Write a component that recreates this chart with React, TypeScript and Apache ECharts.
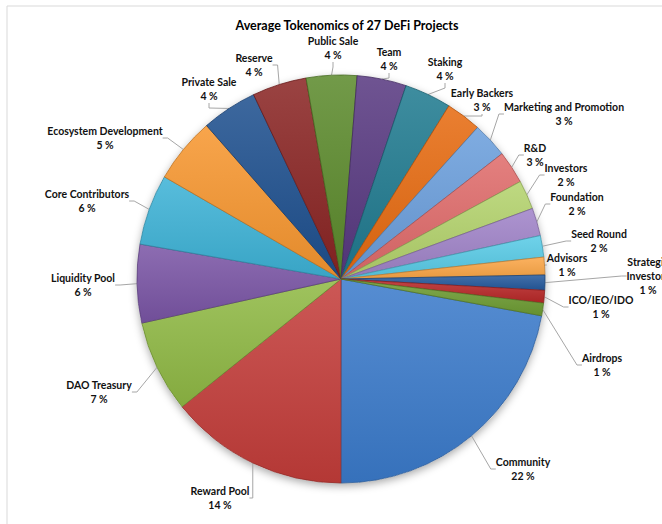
import React, { useEffect, useRef } from "react";
import * as echarts from "echarts";

const TITLE = "Average Tokenomics of 27 DeFi Projects";

const categories = [
  "Community", "Reward Pool", "DAO Treasury", "Liquidity Pool", "Core Contributors",
  "Ecosystem Development", "Private Sale", "Reserve", "Public Sale", "Team", "Staking",
  "Early Backers", "Marketing and Promotion", "R&D", "Investors", "Foundation",
  "Seed Round", "Advisors", "Strategic\nInvestors", "ICO/IEO/IDO", "Airdrops",
];

const values = [
  22.1, 14.2, 7.3, 6.2, 5.6, 5.2, 4.4, 4.3, 4.0, 3.9, 3.7,
  2.8, 2.8, 2.6, 2.3, 2.2, 1.7, 1.4, 1.2, 1.0, 1.0,
];

const colors = [
  "#3B7BCB", "#C43D3A", "#8FB944", "#7A55A5", "#3DB2D6", "#F7962F",
  "#1D4F8E", "#8A2423", "#5B8A2B", "#573880", "#1F7A8F", "#E66A10",
  "#6A9EDC", "#E06B6A", "#B3D36C", "#A083C8", "#58CBE6", "#FBA646",
  "#24599C", "#B82727", "#6E9C33",
];

// label centre positions (layout, px)
const labelPos: [number, number][] = [
  [523, 469], [220, 498], [99, 392], [83, 285], [87, 201], [105, 138],
  [209, 89], [254, 65], [333, 48], [389, 59], [445, 69], [482, 100],
  [564, 114], [535, 155], [566, 175], [577, 204], [599, 241], [567, 265],
  [648, 276], [601, 307], [602, 365],
];

function mix(hex: string, target: number, t: number) {
  const n = parseInt(hex.slice(1), 16);
  const r = (n >> 16) & 255, g = (n >> 8) & 255, b = n & 255;
  const f = (c: number) => Math.round(c + (target - c) * t);
  return `rgb(${f(r)},${f(g)},${f(b)})`;
}

export default function App() {
  const ref = useRef<HTMLDivElement>(null);
  useEffect(() => {
    if (!ref.current) return;
    const chart = echarts.init(ref.current, null, { renderer: "svg" });
    const data = categories.map((name, i) => ({
      name,
      value: values[i],
      itemStyle: {
        color: new echarts.graphic.LinearGradient(0, 0, 0, 1, [
          { offset: 0, color: mix(colors[i], 255, 0.14) },
          { offset: 1, color: mix(colors[i], 0, 0.08) },
        ]),
        borderColor: mix(colors[i], 0, 0.25),
        borderWidth: 0.8,
      },
    }));
    chart.setOption({
      animation: false,
      backgroundColor: "#ffffff",
      title: {
        text: TITLE,
        left: 342,
        top: 14,
        textAlign: "center",
        textStyle: { fontFamily: "Lato", fontWeight: "bold", fontSize: 12.5, color: "#000" },
      },
      graphic: [
        {
          type: "rect",
          shape: { x: 7, y: 6, width: 700, height: 600 },
          style: { fill: "none", stroke: "#D9D9D9", lineWidth: 1 },
          silent: true,
        },
        {
          type: "circle",
          shape: { cx: 341, cy: 279, r: 204 },
          style: { fill: "#ffffff", shadowBlur: 8, shadowOffsetY: 3, shadowColor: "rgba(0,0,0,0.35)" },
          silent: true,
        },
      ],
      series: [
        {
          type: "pie",
          center: [341, 279],
          radius: 204,
          startAngle: -10.4,
          clockwise: true,
          avoidLabelOverlap: false,
          data,
          label: {
            show: true,
            position: "outside",
            fontFamily: "Lato",
            fontWeight: "bold",
            fontSize: 10.5,
            lineHeight: 14,
            color: "#111",
            align: "center",
            formatter: (p: any) => `${p.name}\n${Math.round(p.percent)} %`,
          },
          labelLine: {
            show: true,
            length: 10,
            length2: 5,
            lineStyle: { color: "#A6A6A6", width: 1 },
          },
          labelLayout: (params: any) => {
            const p = labelPos[params.dataIndex];
            return { x: p[0], y: p[1], align: "center", verticalAlign: "middle" };
          },
          emphasis: { disabled: true },
        },
      ],
    });
    return () => chart.dispose();
  }, []);
  return (
    <div
      ref={ref}
      style={{ position: "absolute", left: 0, top: 0, width: 662, height: 524 }}
    />
  );
}
